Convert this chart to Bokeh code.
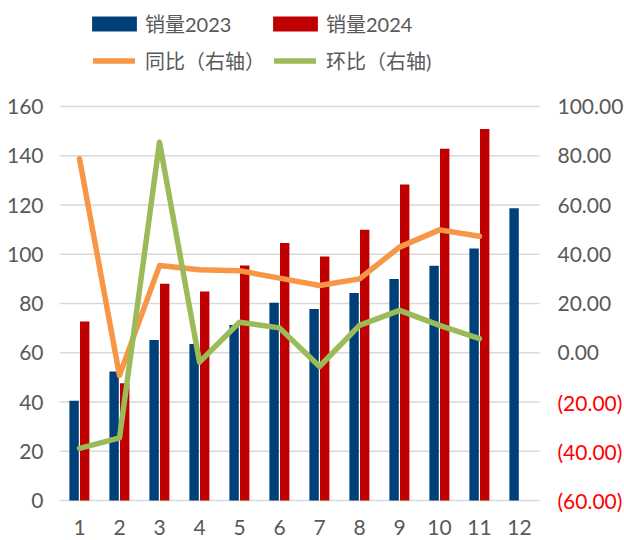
from bokeh.plotting import figure
from bokeh.models import Range1d, FixedTicker, Legend, LegendItem, ColumnDataSource
from bokeh.core.properties import value
from bokeh.transform import dodge
from bokeh.embed import file_html
from bokeh.resources import INLINE

# ---- data ----
months = list(range(1, 13))
sales_2023 = [40.5, 52.4, 65.2, 63.6, 71.3, 80.3, 77.8, 84.3, 90.0, 95.3, 102.3, 118.7]
months_2024 = list(range(1, 12))
sales_2024 = [72.7, 47.6, 88.0, 84.9, 95.4, 104.6, 99.1, 109.9, 128.3, 142.8, 150.9]
yoy = [78.8, -9.2, 35.4, 33.7, 33.3, 30.3, 27.3, 30.0, 42.9, 49.9, 47.3]     # 同比（右轴）
mom = [-38.8, -34.6, 85.5, -3.8, 12.4, 10.1, -5.6, 11.1, 17.2, 11.1, 5.7]    # 环比（右轴)
left_ticks = [0, 20, 40, 60, 80, 100, 120, 140, 160]
right_ticks = [-60, -40, -20, 0, 20, 40, 60, 80, 100]
right_labels = ["(%.2f)" % abs(t) if t < 0 else "%.2f" % t for t in right_ticks]
month_labels = [str(m) for m in months]

GRAY = "#595959"
RED_TXT = "#ff0000"
NUM_FONT = "Lato"
CJK_FONT = "Lato, Noto Sans CJK SC"

# ---- geometry: 0..160 spans 394 px; one month slot is 40 px ----
W, H = 624, 540
LEFT = 59
PX_Y = 394 / 160
PX_X = 40
y_lo = -40 / PX_Y                 # room under the axis for the month labels
y_hi = 160 + 106 / PX_Y           # room above for the legend
x_lo = months[0] - 0.5
x_hi = x_lo + (W - LEFT) / PX_X   # room on the right for the right-hand scale

p = figure(width=W, height=H, x_range=Range1d(x_lo, x_hi), y_range=Range1d(y_lo, y_hi),
           output_backend="svg", toolbar_location=None,
           min_border_left=LEFT, min_border_right=0, min_border_top=0, min_border_bottom=0)
p.extra_y_ranges = {"right": Range1d(-60 + y_lo, 100 + (y_hi - 160))}
p.outline_line_color = None
p.background_fill_color = "white"
p.xgrid.visible = False
p.ygrid.visible = False
p.xaxis.visible = False

# horizontal grid lines across the month slots
grid_x0 = months[0] - 0.5
grid_x1 = months[-1] + 0.5
p.segment(x0=[grid_x0] * len(left_ticks), x1=[grid_x1] * len(left_ticks),
          y0=left_ticks, y1=left_ticks, line_color="#d9d9d9", line_width=1.5, level="underlay")

src23 = ColumnDataSource(dict(x=months, y=sales_2023))
src24 = ColumnDataSource(dict(x=months_2024, y=sales_2024))
srcl = ColumnDataSource(dict(x=months_2024, yoy=yoy, mom=mom))

b23 = p.vbar(x=dodge("x", -0.135, range=p.x_range), top="y", width=0.235, source=src23,
             fill_color="#004078", line_color=None)
b24 = p.vbar(x=dodge("x", 0.13, range=p.x_range), top="y", width=0.235, source=src24,
             fill_color="#c00000", line_color=None)
l1 = p.line("x", "yoy", source=srcl, y_range_name="right", line_width=5.5,
            line_color="#f79646", line_join="round", line_cap="round")
l2 = p.line("x", "mom", source=srcl, y_range_name="right", line_width=5.5,
            line_color="#9bbb59", line_join="round", line_cap="round")

# left axis
ax = p.yaxis[0]
ax.ticker = FixedTicker(ticks=left_ticks)
ax.axis_line_color = None
ax.major_tick_line_color = None
ax.minor_tick_line_color = None
ax.major_tick_in = 0
ax.major_tick_out = 0
ax.major_label_standoff = 16
ax.major_label_text_color = GRAY
ax.major_label_text_font = NUM_FONT
ax.major_label_text_font_size = "21px"

# month labels under the bars
xl_src = ColumnDataSource(dict(x=months, y=[-27 / PX_Y] * len(months), text=month_labels))
p.text(x="x", y="y", text="text", source=xl_src, text_align="center", text_baseline="middle",
       text_color=GRAY, text_font=value(NUM_FONT), text_font_size="21px")

# right-hand scale (negatives shown in red parentheses)
rl_src = ColumnDataSource(dict(x=[grid_x1 + 18 / PX_X] * len(right_ticks), y=right_ticks,
                               text=right_labels,
                               color=[RED_TXT if t < 0 else GRAY for t in right_ticks]))
p.text(x="x", y="y", text="text", source=rl_src, y_range_name="right",
       text_align="left", text_baseline="middle", text_color="color",
       text_font=value(NUM_FONT), text_font_size="21px")

common = dict(orientation="horizontal", padding=0, margin=0,
              border_line_alpha=0, background_fill_alpha=0, label_height=22,
              label_text_color=GRAY, label_text_font=CJK_FONT, label_text_font_size="20px")
bar_leg = dict(glyph_width=56, glyph_height=19, label_standoff=3, **common)
line_leg = dict(glyph_width=42, glyph_height=19, label_standoff=10, **common)
legends = [
    Legend(items=[LegendItem(label="销量2023", renderers=[b23])], location=(27, 502), **bar_leg),
    Legend(items=[LegendItem(label="销量2024", renderers=[b24])], location=(208, 502), **bar_leg),
    Legend(items=[LegendItem(label="同比（右轴）", renderers=[l1])], location=(34, 465), **line_leg),
    Legend(items=[LegendItem(label="环比（右轴)", renderers=[l2])], location=(215, 465), **line_leg),
]
for lg in legends:
    p.add_layout(lg, "center")

open("out.html", "w").write(file_html(p, INLINE))
